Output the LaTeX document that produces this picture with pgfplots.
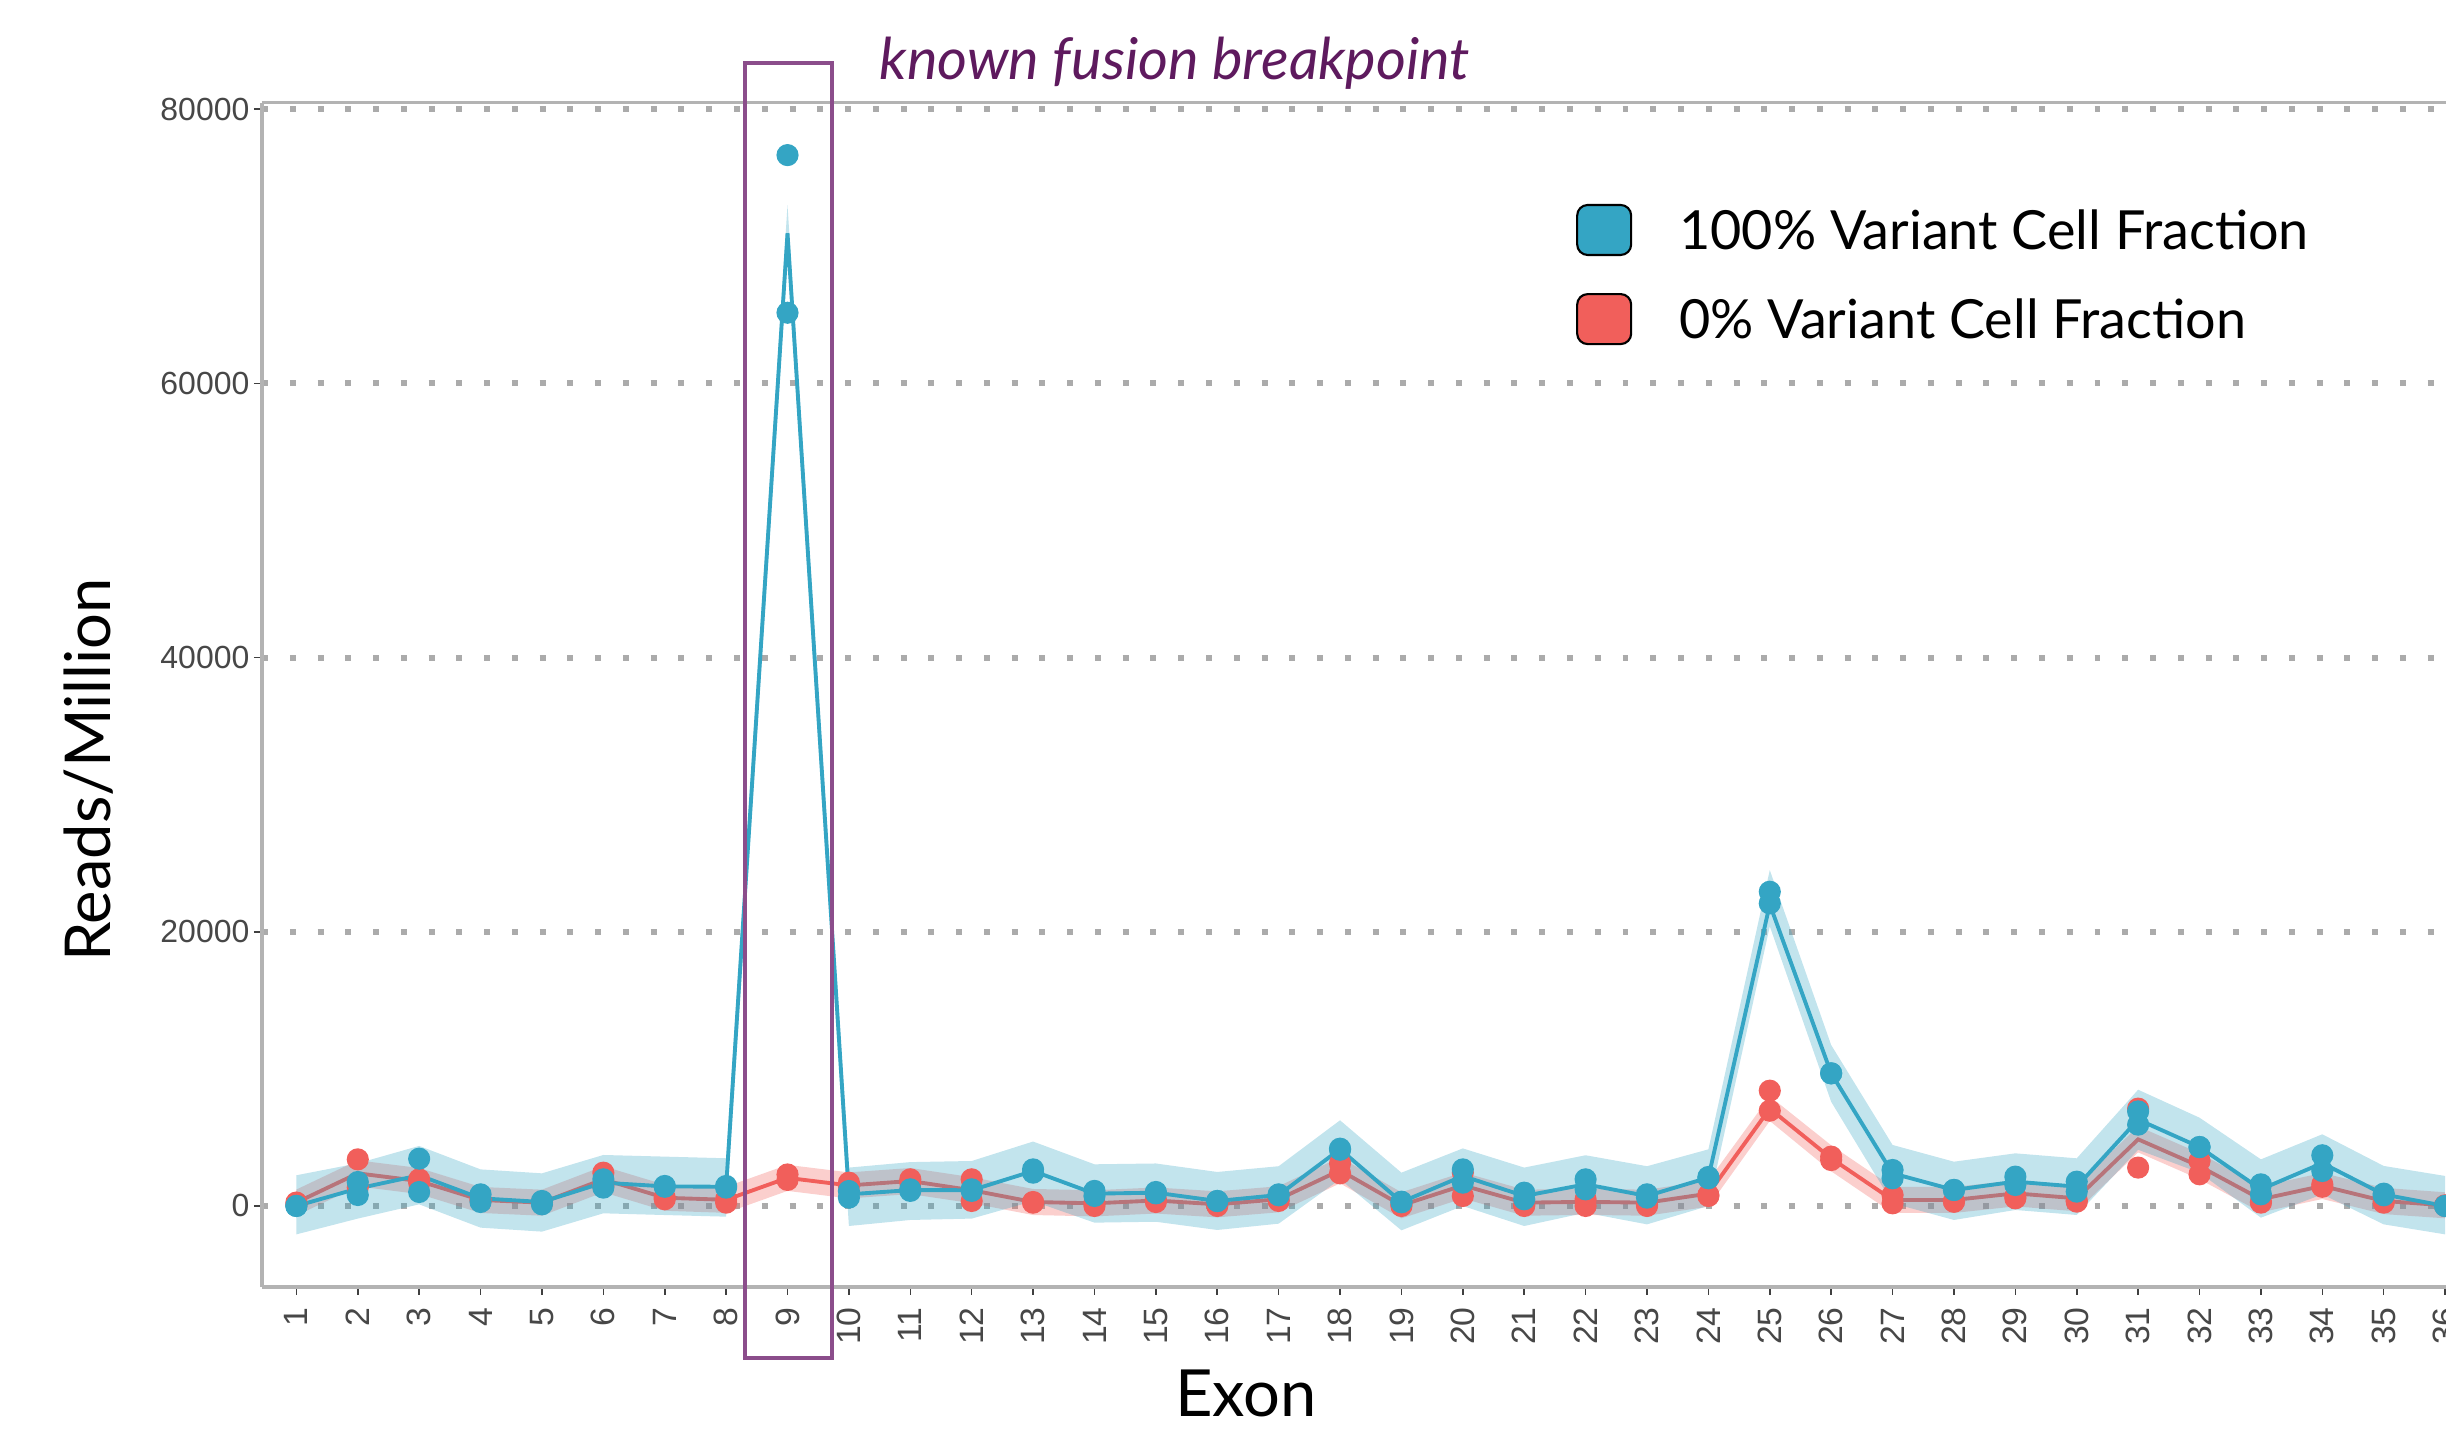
\documentclass[border=0pt]{standalone}
\usepackage{fontspec}
\setmainfont{Lato}
\newfontfamily\tickfont{Liberation Sans}
\usepackage{pgfplots}
\pgfplotsset{compat=1.18}
\usepackage{pgfplotstable}

\definecolor{cblue}{RGB}{52,165,196}
\definecolor{cred}{RGB}{241,95,91}
\definecolor{gridc}{RGB}{171,171,171}
\definecolor{framec}{RGB}{179,179,179}
\definecolor{boxc}{RGB}{139,77,139}
\definecolor{titlec}{RGB}{94,26,94}

% 100% variant cell fraction: replicates p1, p2 and line m
\pgfplotstableread{
x p1 p2 m
1 0 0 0
2 1750 800 1275
3 3450 1020 2235
4 850 290 560
5 365 120 290
6 1945 1340 1700
7 1460 1400 1430
8 1460 1340 1400
9 76650 65150 70950
10 1094 610 850
11 1215 1100 1160
12 1215 1100 1150
13 2670 2430 2550
14 1100 730 900
15 1020 920 970
16 365 365 365
17 850 780 800
18 4180 4100 4140
19 316 270 290
20 2670 1700 2185
21 970 490 730
22 1945 1215 1580
23 850 610 730
24 2115 2020 2070
25 22920 22070 22000
26 9675 9675 9675
27 2625 2020 2380
28 1170 1170 1170
29 2140 1530 1775
30 1775 1045 1410
31 6900 5930 6300
32 4300 4300 4300
33 1580 850 1215
34 3700 2550 3125
35 900 780 840
36 0 0 0
}\bluedata

% 0% variant cell fraction
\pgfplotstableread{
x p1 p2 m
1 250 100 250
2 3400 1360 2380
3 1700 1940 1820
4 450 430 440
5 240 240 243
6 2430 1460 1945
7 610 490 600
8 490 243 450
9 2300 1900 2050
10 1700 1460 1500
11 1945 1700 1820
12 1945 365 1150
13 290 240 290
14 243 0 195
15 490 290 400
16 0 100 120
17 365 450 490
18 3110 2380 2600
19 120 0 50
20 2430 730 1500
21 0 100 243
22 490 0 300
23 0 100 243
24 800 730 900
25 8410 6950 7100
26 3600 3350 3476
27 800 195 440
28 316 316 440
29 560 700 920
30 316 400 560
31 7100 2800 4860
32 3280 2310 2900
33 243 300 490
34 1580 1400 1460
35 243 300 365
36 0 50 50
}\reddata

% ribbon outlines: upper edge 1..36, then lower edge 36..1
\pgfplotstableread{
x y
1 2240
2 3110
3 4380
4 2670
5 2380
6 3720
7 3600
8 3480
9 73000
10 2800
11 3200
12 3280
13 4700
14 3040
15 3100
16 2480
17 2900
18 6250
19 2430
20 4200
21 2800
22 3700
23 2900
24 4130
25 24500
26 11740
27 4450
28 3230
29 3840
30 3476
31 8480
32 6440
33 3400
34 5230
35 2920
36 2190
36 -2070
35 -1340
34 850
33 -850
32 2430
31 4100
30 -656
29 -290
28 -1020
27 200
26 7600
25 20400
24 0
23 -1340
22 -490
21 -1460
20 0
19 -1775
18 1945
17 -1290
16 -1750
15 -1150
14 -1215
13 350
12 -920
11 -1020
10 -1460
9 69000
8 -780
7 -660
6 -535
5 -1870
4 -1580
3 120
2 -920
1 -2070
}\blueband

\pgfplotstableread{
x y
1 1200
2 3330
3 2770
4 1390
5 1190
6 2900
7 1550
8 1400
9 3000
10 2450
11 2770
12 2100
13 1240
14 1150
15 1350
16 1070
17 1440
18 3550
19 1000
20 2450
21 1190
22 1250
23 1190
24 1850
25 8000
26 4430
27 1390
28 1390
29 1870
30 1510
31 5810
32 3850
33 1440
34 2410
35 1320
36 1000
36 -900
35 -590
34 510
33 -460
32 1950
31 3910
30 -390
29 -30
28 -510
27 -510
26 2530
25 6200
24 -50
23 -710
22 -650
21 -710
20 550
19 -900
18 1650
17 -460
16 -830
15 -550
14 -760
13 -660
12 200
11 870
10 550
9 1100
8 -500
7 -350
6 1000
5 -710
4 -510
3 870
2 1430
1 -700
}\redband

\begin{document}
\begin{tikzpicture}
\begin{axis}[
  scale only axis, width=21.84cm, height=11.843cm,
  xmin=0.44, xmax=36.015, ymin=-5908, ymax=80474,
  axis x line*=bottom, axis y line*=left,
  axis line style={draw=framec, line width=1pt},
  xtick={1,...,36}, ytick={0,20000,40000,60000,80000},
  scaled y ticks=false,
  tick align=outside, major tick length=0.08cm,
  tick style={draw=black!75, line width=0.45pt},
  ymajorgrids,
  grid style={draw=gridc, line width=1.7pt, dash pattern=on 1.7pt off 6.2pt},
  /pgf/number format/assume math mode=true,
  /pgf/number format/1000 sep={},
  ticklabel style={font=\tickfont\fontsize{9.1}{10}\selectfont, text=black!72},
  yticklabel style={xshift=0.078cm},
  xticklabel style={rotate=90, anchor=east, font=\tickfont\fontsize{9.6}{10}\selectfont},
  clip=false,
  legend cell align=left,
  legend style={at={(0.6017,0.9145)}, anchor=north west, draw=none, fill=none,
    inner sep=0pt, outer sep=0pt, row sep=0.37cm,
    font=\fontsize{15.35}{18}\selectfont,
    nodes={inner sep=0pt},
    /tikz/every odd column/.append style={column sep=0.47cm}},
]
\addlegendimage{legend image code/.code={\draw[fill=cblue, draw=black, line width=0.6pt, rounded corners=3pt] (0cm,-0.23cm) rectangle (0.54cm,0.27cm);}}
\addlegendentry{100\% Variant Cell Fraction}
\addlegendimage{legend image code/.code={\draw[fill=cred, draw=black, line width=0.6pt, rounded corners=3pt] (0cm,-0.23cm) rectangle (0.54cm,0.27cm);}}
\addlegendentry{0\% Variant Cell Fraction}

\addplot[draw=none, fill=cred, fill opacity=0.3, forget plot] table[x=x,y=y]{\redband};
\addplot[cred, line width=1.1pt, no marks, forget plot] table[x=x,y=m]{\reddata};
\addplot[draw=none, fill=cblue, fill opacity=0.3, forget plot] table[x=x,y=y]{\blueband};
\addplot[cblue, line width=1.1pt, no marks, forget plot] table[x=x,y=m]{\bluedata};

\addplot[cred, only marks, mark=*, mark size=2.95pt, mark options={draw=none, fill=cred}, forget plot] table[x=x,y=p1]{\reddata};
\addplot[cred, only marks, mark=*, mark size=2.95pt, mark options={draw=none, fill=cred}, forget plot] table[x=x,y=p2]{\reddata};
\addplot[cblue, only marks, mark=*, mark size=2.95pt, mark options={draw=none, fill=cblue}, forget plot] table[x=x,y=p1]{\bluedata};
\addplot[cblue, only marks, mark=*, mark size=2.95pt, mark options={draw=none, fill=cblue}, forget plot] table[x=x,y=p2]{\bluedata};

\draw[framec, line width=1pt] (rel axis cs:0,1) -- (rel axis cs:1,1);
\draw[boxc, line width=1.15pt] (axis cs:8.31,83350) rectangle (axis cs:9.73,-11090);
\node[font=\itshape\fontsize{16.4}{19}\selectfont, text=titlec] at (rel axis cs:0.418,1.0329) {known fusion breakpoint};
\node[rotate=90, font=\fontsize{18}{21}\selectfont] at (rel axis cs:-0.0792,0.4366) {Reads/Million};
\node[font=\fontsize{18.5}{21}\selectfont] at (rel axis cs:0.4505,-0.0895) {Exon};
\coordinate (bbsw) at (rel axis cs:-0.11996,-0.12244);
\coordinate (bbne) at (rel axis cs:1,1.08672);
\end{axis}
\pgfresetboundingbox
\useasboundingbox (bbsw) rectangle (bbne);
\end{tikzpicture}
\end{document}
